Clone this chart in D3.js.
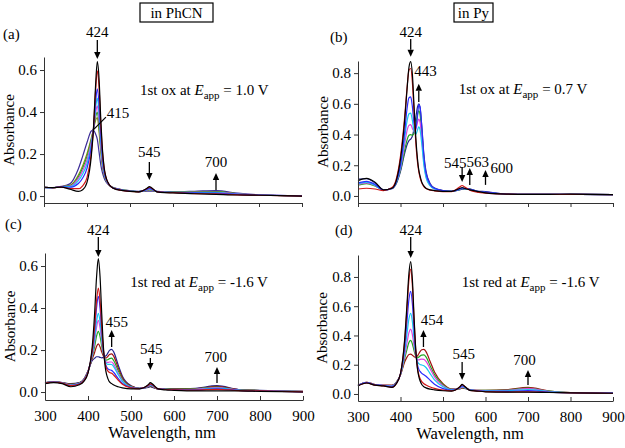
<!DOCTYPE html>
<html><head><meta charset="utf-8">
<script src="https://cdn.jsdelivr.net/npm/d3@7"></script>
<style>
body{margin:0;background:#fff}
svg{display:block}
</style>
</head><body>
<svg id="chart" width="625" height="448"></svg>
<script>
// ---------- data ----------
const wavelengths = [300,320,340,360,380,390,400,410,415,420,424,428,432,436,440,443,446,450,455,460,470,480,500,520,540,545,550,563,580,600,650,700,750,800,900];
const xTickValues = [300,400,500,600,700,800,900];
const yTicksSmall = [0,0.2,0.4,0.6];
const yTicksLarge = [0,0.2,0.4,0.6,0.8];

// (a) 1st ox in PhCN
const a_black  = [0.042,0.040,0.043,0.033,0.022,0.030,0.065,0.190,0.320,0.530,0.640,0.560,0.370,0.220,0.135,0.100,0.078,0.060,0.046,0.038,0.031,0.027,0.022,0.020,0.038,0.045,0.040,0.020,0.016,0.015,0.011,0.008,0.005,0.004,0.000];
const a_red    = [0.042,0.040,0.043,0.036,0.035,0.049,0.088,0.204,0.319,0.502,0.596,0.518,0.344,0.207,0.129,0.097,0.076,0.059,0.046,0.038,0.032,0.027,0.022,0.020,0.036,0.042,0.038,0.020,0.017,0.016,0.012,0.010,0.006,0.004,0.000];
const a_blue   = [0.041,0.040,0.044,0.042,0.060,0.086,0.132,0.232,0.318,0.448,0.510,0.438,0.293,0.182,0.118,0.090,0.073,0.058,0.046,0.039,0.033,0.028,0.023,0.021,0.033,0.038,0.034,0.021,0.018,0.017,0.015,0.014,0.008,0.005,0.001];
const a_cyan   = [0.041,0.040,0.044,0.045,0.073,0.105,0.154,0.246,0.317,0.420,0.466,0.396,0.267,0.168,0.112,0.087,0.071,0.058,0.046,0.040,0.033,0.029,0.024,0.021,0.031,0.035,0.032,0.021,0.018,0.018,0.017,0.016,0.009,0.005,0.001];
const a_magenta= [0.041,0.040,0.045,0.047,0.084,0.121,0.173,0.258,0.317,0.396,0.429,0.361,0.245,0.157,0.107,0.084,0.069,0.057,0.047,0.040,0.034,0.029,0.024,0.021,0.029,0.033,0.031,0.021,0.019,0.018,0.018,0.018,0.010,0.005,0.001];
const a_green  = [0.041,0.040,0.045,0.049,0.092,0.134,0.189,0.268,0.316,0.377,0.400,0.333,0.227,0.149,0.103,0.082,0.068,0.057,0.047,0.041,0.034,0.030,0.025,0.021,0.028,0.031,0.030,0.021,0.019,0.019,0.019,0.020,0.011,0.005,0.001];
const a_olive  = [0.041,0.040,0.045,0.051,0.100,0.145,0.202,0.276,0.316,0.361,0.374,0.308,0.212,0.141,0.099,0.080,0.067,0.056,0.047,0.041,0.035,0.030,0.025,0.021,0.027,0.030,0.028,0.021,0.020,0.019,0.020,0.021,0.011,0.005,0.001];
const a_purple = [0.040,0.040,0.046,0.058,0.130,0.190,0.255,0.310,0.314,0.295,0.270,0.210,0.150,0.110,0.085,0.072,0.063,0.055,0.047,0.042,0.036,0.031,0.026,0.022,0.023,0.024,0.024,0.022,0.021,0.021,0.023,0.026,0.014,0.006,0.002];

// (b) 1st ox in Py
const b_black  = [0.100,0.115,0.090,0.040,0.050,0.100,0.240,0.500,0.680,0.840,0.875,0.790,0.580,0.380,0.240,0.170,0.130,0.090,0.065,0.050,0.040,0.035,0.030,0.030,0.050,0.055,0.050,0.040,0.030,0.020,0.012,0.010,0.010,0.012,0.008];
const b_red    = [0.045,0.050,0.045,0.035,0.055,0.110,0.260,0.520,0.690,0.820,0.830,0.740,0.540,0.350,0.220,0.160,0.120,0.085,0.060,0.048,0.038,0.033,0.028,0.028,0.060,0.068,0.060,0.038,0.025,0.018,0.012,0.010,0.010,0.010,0.008];
const b_blue   = [0.085,0.095,0.075,0.038,0.050,0.090,0.200,0.420,0.560,0.640,0.645,0.580,0.470,0.440,0.520,0.595,0.580,0.450,0.260,0.150,0.075,0.050,0.035,0.030,0.045,0.050,0.050,0.045,0.030,0.025,0.012,0.010,0.010,0.010,0.008];
const b_cyan   = [0.080,0.090,0.070,0.038,0.050,0.090,0.190,0.380,0.480,0.535,0.540,0.490,0.420,0.400,0.430,0.450,0.430,0.340,0.200,0.120,0.065,0.045,0.032,0.030,0.045,0.050,0.048,0.042,0.030,0.022,0.012,0.010,0.010,0.010,0.008];
const b_magenta= [0.075,0.085,0.068,0.038,0.050,0.090,0.180,0.340,0.420,0.460,0.465,0.440,0.420,0.430,0.480,0.500,0.480,0.380,0.220,0.130,0.068,0.046,0.032,0.030,0.045,0.050,0.048,0.042,0.030,0.022,0.012,0.010,0.010,0.010,0.008];
const b_green  = [0.070,0.080,0.065,0.038,0.050,0.085,0.170,0.300,0.360,0.395,0.400,0.395,0.410,0.460,0.530,0.555,0.530,0.420,0.240,0.140,0.070,0.048,0.033,0.030,0.043,0.048,0.047,0.044,0.030,0.024,0.012,0.010,0.010,0.010,0.008];
const b_navy   = [0.110,0.112,0.085,0.040,0.048,0.080,0.160,0.280,0.330,0.360,0.370,0.390,0.440,0.510,0.580,0.600,0.575,0.460,0.270,0.160,0.080,0.052,0.035,0.030,0.040,0.044,0.045,0.045,0.032,0.028,0.012,0.010,0.010,0.010,0.008];

// (c) 1st red in PhCN
const c_black  = [0.040,0.045,0.040,0.025,0.035,0.050,0.090,0.220,0.360,0.550,0.635,0.550,0.370,0.210,0.120,0.085,0.065,0.048,0.040,0.033,0.025,0.020,0.015,0.015,0.035,0.045,0.038,0.015,0.010,0.008,0.005,0.005,0.005,0.003,0.000];
const c_red    = [0.042,0.047,0.042,0.030,0.038,0.053,0.093,0.199,0.300,0.435,0.495,0.435,0.308,0.197,0.135,0.112,0.101,0.093,0.089,0.080,0.057,0.037,0.020,0.016,0.031,0.039,0.033,0.015,0.012,0.010,0.009,0.013,0.007,0.005,0.001];
const c_blue   = [0.042,0.047,0.042,0.031,0.039,0.054,0.094,0.193,0.283,0.403,0.455,0.402,0.290,0.193,0.139,0.120,0.111,0.106,0.103,0.093,0.065,0.041,0.021,0.016,0.030,0.037,0.032,0.015,0.012,0.011,0.010,0.015,0.008,0.005,0.001];
const c_cyan   = [0.043,0.048,0.043,0.033,0.041,0.056,0.096,0.181,0.249,0.337,0.375,0.336,0.255,0.185,0.148,0.135,0.132,0.132,0.131,0.120,0.083,0.051,0.023,0.017,0.028,0.034,0.029,0.015,0.013,0.012,0.012,0.019,0.009,0.006,0.002];
const c_magenta= [0.043,0.048,0.043,0.034,0.041,0.056,0.096,0.176,0.234,0.309,0.341,0.307,0.240,0.182,0.152,0.142,0.141,0.143,0.143,0.132,0.091,0.055,0.024,0.017,0.027,0.032,0.028,0.015,0.013,0.012,0.013,0.021,0.009,0.006,0.002];
const c_green  = [0.044,0.049,0.044,0.036,0.042,0.057,0.097,0.168,0.212,0.267,0.289,0.265,0.217,0.177,0.157,0.152,0.154,0.159,0.161,0.149,0.103,0.061,0.026,0.017,0.025,0.030,0.026,0.015,0.014,0.013,0.015,0.024,0.010,0.007,0.002];
const c_darkred= [0.044,0.049,0.044,0.038,0.044,0.059,0.099,0.159,0.186,0.218,0.229,0.215,0.190,0.171,0.163,0.163,0.169,0.179,0.182,0.170,0.116,0.068,0.028,0.018,0.024,0.028,0.024,0.015,0.014,0.014,0.016,0.027,0.011,0.007,0.003];
const c_navy   = [0.045,0.050,0.045,0.040,0.045,0.060,0.100,0.150,0.160,0.168,0.168,0.165,0.163,0.165,0.170,0.175,0.185,0.198,0.203,0.190,0.130,0.075,0.030,0.018,0.022,0.025,0.022,0.015,0.015,0.015,0.018,0.030,0.012,0.008,0.003];

// (d) 1st red in Py
const d_black  = [0.055,0.075,0.060,0.055,0.045,0.070,0.140,0.380,0.600,0.830,0.905,0.780,0.520,0.300,0.170,0.120,0.090,0.065,0.050,0.042,0.033,0.028,0.022,0.020,0.050,0.065,0.055,0.025,0.020,0.015,0.012,0.012,0.010,0.008,0.005];
const d_red    = [0.055,0.075,0.060,0.055,0.046,0.071,0.139,0.367,0.572,0.785,0.854,0.739,0.499,0.296,0.177,0.132,0.106,0.084,0.070,0.062,0.048,0.038,0.026,0.021,0.049,0.063,0.054,0.025,0.020,0.016,0.013,0.015,0.011,0.008,0.005];
const d_blue   = [0.057,0.077,0.062,0.057,0.050,0.073,0.137,0.329,0.488,0.651,0.702,0.615,0.435,0.284,0.199,0.170,0.154,0.141,0.132,0.121,0.093,0.067,0.037,0.025,0.045,0.057,0.050,0.027,0.022,0.018,0.018,0.023,0.013,0.009,0.006];
const d_cyan   = [0.058,0.078,0.063,0.058,0.053,0.076,0.134,0.290,0.404,0.516,0.551,0.492,0.372,0.272,0.220,0.207,0.202,0.198,0.193,0.181,0.138,0.096,0.049,0.028,0.042,0.051,0.045,0.028,0.023,0.021,0.022,0.030,0.016,0.009,0.007];
const d_magenta= [0.059,0.079,0.064,0.059,0.056,0.077,0.133,0.263,0.345,0.421,0.443,0.404,0.327,0.264,0.236,0.233,0.236,0.238,0.236,0.223,0.170,0.117,0.057,0.031,0.039,0.047,0.043,0.029,0.024,0.022,0.025,0.036,0.017,0.009,0.007];
const d_green  = [0.059,0.079,0.064,0.059,0.058,0.079,0.132,0.244,0.302,0.354,0.367,0.342,0.295,0.258,0.247,0.252,0.260,0.266,0.267,0.253,0.192,0.132,0.063,0.033,0.037,0.044,0.041,0.029,0.024,0.024,0.027,0.040,0.019,0.010,0.008];
const d_darkred= [0.060,0.080,0.065,0.060,0.060,0.080,0.130,0.220,0.250,0.270,0.272,0.265,0.255,0.250,0.260,0.275,0.290,0.302,0.305,0.290,0.220,0.150,0.070,0.035,0.035,0.040,0.038,0.030,0.025,0.025,0.030,0.045,0.020,0.010,0.008];

// ---------- chart ----------
const FONT = '"Liberation Serif", "Times New Roman", "DejaVu Serif", serif';
const svg = d3.select('#chart').attr('font-family', FONT);
const COL = {black:'#000000', red:'#d01818', blue:'#2b2bff', cyan:'#18c8f0', magenta:'#e040e0', green:'#20a820', olive:'#8a8a10', purple:'#3c2c98', navy:'#23238c', darkred:'#a01010'};

const panels = [
  {tag:'(a)', tagPos:[3,39], xr:[44,302], yr:[203,57], dom:[-0.033,0.662], yt:yTicksSmall, xLabels:false, ylabX:9,
   series:[[a_black,'black'],[a_red,'red'],[a_blue,'blue'],[a_cyan,'cyan'],[a_magenta,'magenta'],[a_green,'green'],[a_olive,'olive'],[a_purple,'purple']],
   labels:[['424',424,0.757,'middle'],['415',446,0.371,'start'],['545',545,0.186,'middle'],['700',700,0.138,'middle']],
   arrows:[[424,0.743,0.652],[545,0.162,0.076],[700,0.029,0.110]],
   leader:[414,0.314,444,0.376],
   cond:['1st ox at ',' = 1.0 V',523,0.481]},
  {tag:'(b)', tagPos:[330,42], xr:[358,613], yr:[203,61], dom:[-0.046,0.879], yt:yTicksLarge, xLabels:false, ylabX:323,
   series:[[b_black,'black'],[b_red,'red'],[b_blue,'blue'],[b_cyan,'cyan'],[b_magenta,'magenta'],[b_green,'green'],[b_navy,'navy']],
   labels:[['424',424,1.036,'middle'],['443',432.6,0.782,'start'],['545',529,0.182,'middle'],['563',582,0.189,'middle'],['600',612,0.150,'start']],
   arrows:[[424,1.023,0.906],[443,0.612,0.730],[545,0.189,0.091],[563,0.072,0.182],[600,0.072,0.169]],
   cond:['1st ox at ',' = 0.7 V',537,0.664]},
  {tag:'(c)', tagPos:[5,229], xr:[45,303], yr:[400,253], dom:[-0.038,0.662], yt:yTicksSmall, xLabels:true, ylabX:10, xTitleX:162,
   series:[[c_black,'black'],[c_red,'red'],[c_blue,'blue'],[c_cyan,'cyan'],[c_magenta,'magenta'],[c_green,'green'],[c_darkred,'darkred'],[c_navy,'navy']],
   labels:[['424',424,0.748,'middle'],['455',467,0.310,'middle'],['545',547,0.181,'middle'],['700',697,0.143,'middle']],
   arrows:[[424,0.738,0.643],[455,0.214,0.295],[545,0.162,0.105],[700,0.043,0.119]],
   cond:['1st red at ',' = -1.6 V',498,0.500]},
  {tag:'(d)', tagPos:[335,235], xr:[358,613], yr:[401,255], dom:[-0.048,0.950], yt:yTicksLarge, xLabels:true, ylabX:322, xTitleX:470,
   series:[[d_black,'black'],[d_red,'red'],[d_blue,'blue'],[d_cyan,'cyan'],[d_magenta,'magenta'],[d_green,'green'],[d_darkred,'darkred']],
   labels:[['424',424,1.087,'middle'],['454',474,0.472,'middle'],['545',549,0.239,'middle'],['700',692,0.198,'middle']],
   arrows:[[424,1.073,0.930],[454,0.321,0.438],[545,0.219,0.096],[700,0.062,0.164]],
   cond:['1st red at ',' = -1.6 V',544,0.732]}
];

function drawPanel(p){
  const x = d3.scaleLinear().domain([300,900]).range(p.xr);
  const y = d3.scaleLinear().domain(p.dom).range(p.yr);
  const g = svg.append('g');

  const line = d3.line().x((d,i)=>x(wavelengths[i])).y(d=>y(d)).curve(d3.curveMonotoneX);
  p.series.slice().reverse().forEach(([vals,c])=>{
    g.append('path').attr('d',line(vals)).attr('fill','none')
     .attr('stroke',COL[c]).attr('stroke-width',1.2).attr('stroke-linejoin','round');
  });

  const ya = d3.axisLeft(y).tickValues(p.yt).tickFormat(d3.format('.1f')).tickSizeInner(4).tickSizeOuter(0).tickPadding(3);
  const yg = g.append('g').attr('transform',`translate(${p.xr[0]},0)`).call(ya);
  const xa = d3.axisBottom(x).tickValues(xTickValues).tickSizeOuter(0);
  if(p.xLabels){ xa.tickSizeInner(-4).tickPadding(10).tickFormat(d3.format('d')); }
  else { xa.tickSizeInner(4).tickFormat(''); }
  const xg = g.append('g').attr('transform',`translate(0,${p.yr[0]})`).call(xa);
  [yg,xg].forEach(a=>{
    a.attr('font-family',FONT).attr('font-size',15);
    a.selectAll('text').attr('fill','#000');
    a.selectAll('path,line').attr('stroke','#333').attr('stroke-width',1);
  });

  g.append('text').attr('transform',`translate(${p.ylabX+5},${(p.yr[0]+p.yr[1])/2}) rotate(-90)`)
    .attr('text-anchor','middle').attr('font-size',15).text('Absorbance');

  if(p.xLabels){
    g.append('text').attr('x',p.xTitleX).attr('y',p.yr[0]+38).attr('text-anchor','middle')
     .attr('font-size',16.5).text('Wavelength, nm');
  }

  g.append('text').attr('x',p.tagPos[0]).attr('y',p.tagPos[1]).attr('font-size',15).text(p.tag);

  p.labels.forEach(([t,wl,a,anchor])=>{
    g.append('text').attr('x',x(wl)).attr('y',y(a)).attr('text-anchor',anchor).attr('font-size',15).text(t);
  });
  p.arrows.forEach(([wl,a1,a2])=>{
    const xx=x(wl), y1=y(a1), y2=y(a2), dir = y2>y1?1:-1, hl=7;
    g.append('line').attr('x1',xx).attr('x2',xx).attr('y1',y1).attr('y2',y2-dir*hl)
     .attr('stroke','#000').attr('stroke-width',1.3);
    g.append('path').attr('d',`M${xx},${y2} L${xx-3.2},${y2-dir*hl} L${xx+3.2},${y2-dir*hl} Z`).attr('fill','#000');
  });
  if(p.leader){
    const [w1,a1,w2,a2]=p.leader;
    g.append('line').attr('x1',x(w1)).attr('y1',y(a1)).attr('x2',x(w2)).attr('y2',y(a2))
     .attr('stroke','#000').attr('stroke-width',1.2);
  }
  const [pre,post,wl,a]=p.cond;
  const t = g.append('text').attr('x',x(wl)).attr('y',y(a)).attr('font-size',15);
  t.append('tspan').text(pre);
  t.append('tspan').attr('font-style','italic').text('E');
  t.append('tspan').attr('font-size',11).attr('dy',4).text('app');
  t.append('tspan').attr('dy',-4).text(post);
}
panels.forEach(drawPanel);

const boxes = [['in PhCN',140,213],['in Py',454,493]];
boxes.forEach(([t,x0,x1])=>{
  svg.append('rect').attr('x',x0).attr('y',3).attr('width',x1-x0).attr('height',19)
    .attr('fill','none').attr('stroke','#000').attr('stroke-width',1.2);
  svg.append('text').attr('x',(x0+x1)/2).attr('y',18).attr('text-anchor','middle').attr('font-size',15).text(t);
});

svg.selectAll('text').style('font-family', FONT).style('fill', '#000');
</script>
</body></html>
